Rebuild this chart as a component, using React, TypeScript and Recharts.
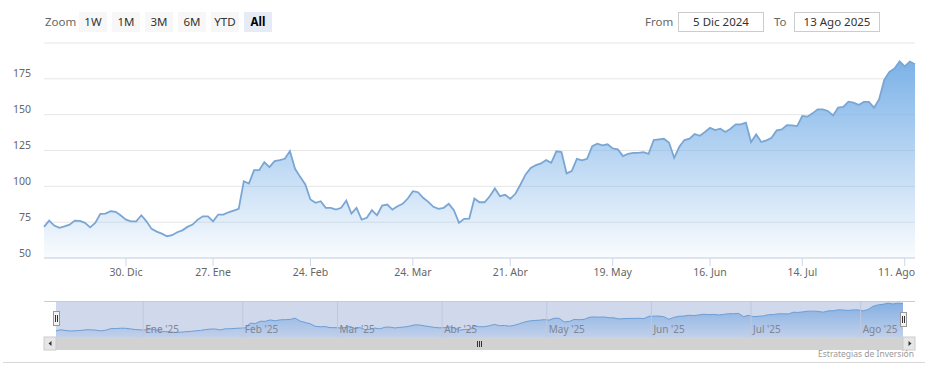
import React from 'react';
import { AreaChart, Area, XAxis, YAxis, CartesianGrid, ReferenceLine } from 'recharts';

const FONT = '"Noto Sans", "Open Sans", Arial, sans-serif';

// closing prices, one per trading day, 5 Dic 2024 -> 13 Ago 2025
const prices = [
  71.7, 76.1, 72.6, 71.0, 72.1, 73.3, 76.1, 75.9, 74.5, 71.4,
  74.5, 80.8, 81.0, 82.6, 82.2, 79.6, 76.8, 75.6, 75.6, 79.8,
  75.6, 70.3, 68.4, 67.0, 65.2, 65.9, 68.0, 69.3, 71.7, 73.3,
  76.8, 79.1, 79.1, 75.6, 80.3, 80.3, 81.9, 83.1, 84.3, 103.6,
  102.0, 111.3, 111.3, 116.9, 113.4, 117.6, 118.3, 119.2, 124.6, 112.2,
  106.6, 101.3, 90.8, 88.5, 89.6, 85.0, 85.0, 83.8, 85.0, 90.1,
  81.0, 85.0, 76.8, 78.0, 83.3, 79.8, 86.6, 87.3, 83.8, 86.1,
  87.8, 91.5, 96.6, 95.9, 92.0, 89.2, 85.7, 84.3, 85.0, 87.8,
  83.3, 74.5, 77.3, 77.5, 91.5, 88.9, 88.9, 93.1, 98.5, 93.1,
  94.1, 91.3, 94.8, 101.3, 108.3, 112.9, 114.8, 116.0, 118.3, 116.4,
  124.4, 123.9, 109.0, 110.6, 119.2, 118.1, 119.2, 128.1, 129.7, 128.6,
  129.3, 126.5, 125.8, 121.1, 122.7, 123.4, 123.4, 123.9, 122.7, 132.3,
  132.8, 133.2, 130.4, 119.9, 127.6, 132.3, 133.2, 136.5, 135.3, 137.9,
  140.9, 139.3, 140.2, 137.9, 140.2, 143.2, 143.2, 144.4, 130.9, 136.2,
  130.9, 132.1, 133.9, 139.0, 139.7, 142.7, 142.5, 142.0, 149.1, 148.6,
  150.9, 153.7, 153.7, 152.6, 149.5, 154.9, 155.4, 159.1, 158.4, 156.8,
  158.9, 158.9, 154.9, 160.7, 174.2, 179.8, 182.2, 187.1, 183.6, 187.1,
  185.2,
];

// main x axis: trading-day index of each labelled date
const mainTickIdx = [16, 33, 52, 72, 91, 111, 130, 148, 168];
const mainTickLabels = ['30. Dic', '27. Ene', '24. Feb', '24. Mar', '21. Abr', '19. May', '16. Jun', '14. Jul', '11. Ago'];
const yTicks = [50, 75, 100, 125, 150, 175, 200];

// navigator month boundaries (between trading days)
const navTickIdx = [17.5, 37.5, 56.5, 77.5, 98.5, 119.5, 139.5, 161.5];
const navTickLabels = ["Ene '25", "Feb '25", "Mar '25", "Abr '25", "May '25", "Jun '25", "Jul '25", "Ago '25"];

const zoomButtons = ['1W', '1M', '3M', '6M', 'YTD', 'All'];
const fromDate = '5 Dic 2024';
const toDate = '13 Ago 2025';
const creditText = 'Estrategias de Inversión';

const data = prices.map((v, i) => ({ i, v }));

const MainXTick = (p: any) => {
  const k = mainTickIdx.indexOf(p.payload.value);
  const last = k === mainTickIdx.length - 1;
  return (
    <text
      x={last ? 915 : p.x}
      y={276}
      textAnchor={last ? 'end' : 'middle'}
      fill="#666666"
      fontSize={10.5}
      fontFamily={FONT}
    >
      {k >= 0 ? mainTickLabels[k] : ''}
    </text>
  );
};

const MainYTick = (p: any) => {
  if (p.payload.value === 200) return <g />;
  return (
    <text x={31} y={p.y - 1.5} textAnchor="end" fill="#666666" fontSize={10.5} fontFamily={FONT}>
      {p.payload.value}
    </text>
  );
};

const makeNavLabel = (text: string) => (p: any) => {
  const vb = p.viewBox || {};
  return (
    <text x={(vb.x || 0) + 2} y={32} textAnchor="start" fill="#80858f" fontSize={10} fontFamily={FONT}>
      {text}
    </text>
  );
};

const btnStyle = (active: boolean): React.CSSProperties => ({
  position: 'absolute',
  top: 12,
  width: 28,
  height: 20,
  lineHeight: '20px',
  textAlign: 'center',
  fontSize: 11.5,
  color: active ? '#000' : '#333',
  fontWeight: active ? 700 : 400,
  background: active ? '#e6ebf5' : '#f7f7f7',
});

const boxStyle = (left: number, width: number): React.CSSProperties => ({
  position: 'absolute',
  left,
  top: 12,
  width,
  height: 18,
  lineHeight: '18px',
  border: '1px solid #cccccc',
  textAlign: 'center',
  fontSize: 11.5,
  color: '#333',
  background: '#fff',
});

export default function App() {
  return (
    <div
      style={{
        position: 'absolute',
        left: 0,
        top: 0,
        width: 925,
        height: 379,
        background: '#ffffff',
        fontFamily: FONT,
        overflow: 'hidden',
      }}
    >
      {/* range selector */}
      <div style={{ position: 'absolute', left: 45, top: 12, height: 20, lineHeight: '20px', fontSize: 11.5, color: '#666' }}>Zoom</div>
      {zoomButtons.map((b, k) => (
        <div key={b} style={{ ...btnStyle(b === 'All'), left: 79 + k * 33 }}>{b}</div>
      ))}
      <div style={{ position: 'absolute', left: 645, top: 12, height: 20, lineHeight: '20px', fontSize: 11.5, color: '#666' }}>From</div>
      <div style={boxStyle(678, 84)}>{fromDate}</div>
      <div style={{ position: 'absolute', left: 774, top: 12, height: 20, lineHeight: '20px', fontSize: 11.5, color: '#666' }}>To</div>
      <div style={boxStyle(794, 84)}>{toDate}</div>

      {/* main chart */}
      <div style={{ position: 'absolute', left: 0, top: 0 }}>
        <AreaChart width={925} height={290} data={data} margin={{ top: 43, right: 10, bottom: 2, left: 0 }}>
          <defs>
            <linearGradient id="mainFill" x1="0" y1="0" x2="0" y2="1">
              <stop offset="0%" stopColor="rgb(124,178,232)" stopOpacity={1} />
              <stop offset="100%" stopColor="rgb(124,178,232)" stopOpacity={0.04} />
            </linearGradient>
          </defs>
          <CartesianGrid vertical={false} stroke="#e6e6e6" />
          <XAxis
            dataKey="i"
            type="number"
            domain={[0, 170]}
            ticks={mainTickIdx}
            interval={0}
            height={30}
            axisLine={{ stroke: '#ccd6eb' }}
            tickLine={{ stroke: '#ccd6eb' }}
            tickSize={8}
            tick={MainXTick}
          />
          <YAxis
            width={44}
            domain={[50, 200]}
            ticks={yTicks}
            interval={0}
            axisLine={false}
            tickLine={false}
            tick={MainYTick}
          />
          <Area
            type="linear"
            dataKey="v"
            stroke="#7aa6d4"
            strokeWidth={1.8}
            fill="url(#mainFill)"
            fillOpacity={1}
            dot={false}
            activeDot={false}
            isAnimationActive={false}
          />
        </AreaChart>
      </div>

      {/* navigator */}
      <div style={{ position: 'absolute', left: 44, top: 301, width: 871, height: 1, background: '#cccccc' }} />
      <div style={{ position: 'absolute', left: 56, top: 302, width: 847, height: 35, background: 'rgb(208,216,236)' }} />
      <div style={{ position: 'absolute', left: 56, top: 301 }}>
        <AreaChart width={847} height={36} data={data} margin={{ top: 0, right: 0, bottom: 0, left: 0 }}>
          <defs>
            <linearGradient id="navFill" x1="0" y1="0" x2="0" y2="1">
              <stop offset="0%" stopColor="rgb(108,162,224)" stopOpacity={0.75} />
              <stop offset="100%" stopColor="rgb(108,162,224)" stopOpacity={0.15} />
            </linearGradient>
          </defs>
          <XAxis dataKey="i" type="number" domain={[0, 170]} hide />
          <YAxis hide domain={[46, 196]} />
          <Area
            type="linear"
            dataKey="v"
            stroke="#6c9dd6"
            strokeWidth={1}
            fill="url(#navFill)"
            fillOpacity={1}
            dot={false}
            activeDot={false}
            isAnimationActive={false}
          />
          {navTickIdx.map((x, k) => (
            <ReferenceLine
              key={x}
              x={x}
              stroke="#bfc8dc"
              strokeWidth={1}
              ifOverflow="extendDomain"
              label={makeNavLabel(navTickLabels[k])}
            />
          ))}
        </AreaChart>
      </div>

      {/* scrollbar */}
      <svg style={{ position: 'absolute', left: 0, top: 0 }} width={925} height={379}>
        <rect x={44} y={337} width={871} height={13} fill="#d2d2d2" />
        <rect x={44} y={337} width={12} height={13} fill="#e6e6e6" stroke="#cccccc" strokeWidth={1} />
        <rect x={903} y={337} width={12} height={13} fill="#e6e6e6" stroke="#cccccc" strokeWidth={1} />
        <path d="M48.5 343.5 L51.5 341 L51.5 346 Z" fill="#333" />
        <path d="M911.5 343.5 L908.5 341 L908.5 346 Z" fill="#333" />
        <line x1={477.5} x2={477.5} y1={341} y2={347} stroke="#333" strokeWidth={1} />
        <line x1={479.5} x2={479.5} y1={341} y2={347} stroke="#333" strokeWidth={1} />
        <line x1={481.5} x2={481.5} y1={341} y2={347} stroke="#333" strokeWidth={1} />
        {/* handles */}
        <rect x={53.5} y={311.5} width={6} height={14} fill="#f2f2f2" stroke="#999999" strokeWidth={1} />
        <line x1={55.5} x2={55.5} y1={315} y2={322} stroke="#333" strokeWidth={1} />
        <line x1={57.5} x2={57.5} y1={315} y2={322} stroke="#333" strokeWidth={1} />
        <rect x={900.5} y={312.5} width={6} height={14} fill="#f2f2f2" stroke="#999999" strokeWidth={1} />
        <line x1={902.5} x2={902.5} y1={316} y2={323} stroke="#333" strokeWidth={1} />
        <line x1={904.5} x2={904.5} y1={316} y2={323} stroke="#333" strokeWidth={1} />
        {/* credits & bottom rule */}
        <text x={914} y={357} textAnchor="end" fill="#999999" fontSize={8.5} fontFamily={FONT}>{creditText}</text>
        <line x1={3} x2={925} y1={362.5} y2={362.5} stroke="#d8d8d8" strokeWidth={1} />
      </svg>
    </div>
  );
}
